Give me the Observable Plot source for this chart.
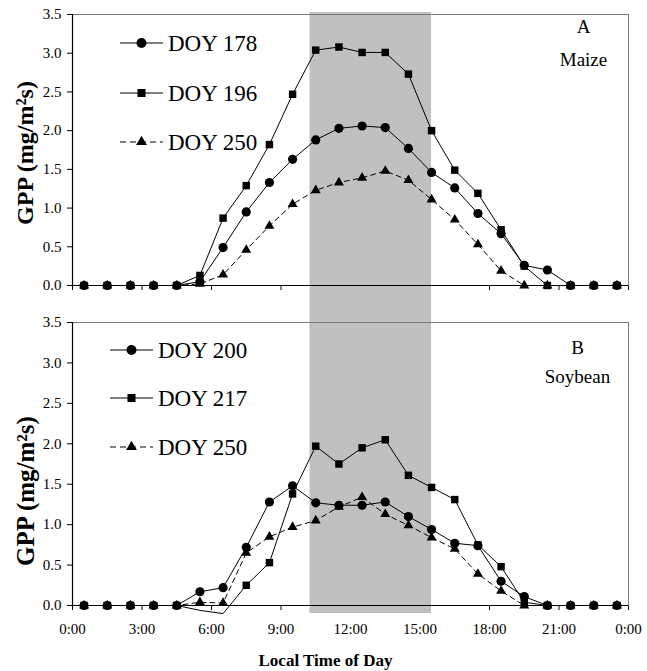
<!DOCTYPE html>
<html>
<head>
<meta charset="utf-8">
<script src="https://cdn.jsdelivr.net/npm/d3@7"></script>
<script src="https://cdn.jsdelivr.net/npm/@observablehq/plot@0.6"></script>
<style>
  html, body { margin: 0; padding: 0; background: #fff; overflow: hidden; }
  #chart { width: 647px; height: 671px; }
  #chart svg { display: block; }
  #chart svg, #chart svg text { font-family: 'Liberation Serif', 'Times New Roman', Times, serif !important; }
</style>
</head>
<body>
<div id="chart"></div>
<script>
// ---- Data ----
const hours = [0.5, 1.5, 2.5, 3.5, 4.5, 5.5, 6.5, 7.5, 8.5, 9.5, 10.5, 11.5,
               12.5, 13.5, 14.5, 15.5, 16.5, 17.5, 18.5, 19.5, 20.5, 21.5, 22.5, 23.5];

const maizeNames = ["DOY 178", "DOY 196", "DOY 250"];
const maize178 = [0, 0, 0, 0, 0, 0.05, 0.49, 0.95, 1.33, 1.63, 1.88, 2.03, 2.06, 2.04, 1.77, 1.46, 1.26, 0.93, 0.67, 0.26, 0.20, 0, 0, 0];
const maize196 = [0, 0, 0, 0, 0, 0.13, 0.87, 1.29, 1.82, 2.47, 3.04, 3.08, 3.01, 3.01, 2.73, 2.00, 1.49, 1.19, 0.72, 0.25, 0, 0, 0, 0];
const maize250 = [0, 0, 0, 0, 0, 0.02, 0.14, 0.46, 0.77, 1.05, 1.23, 1.33, 1.39, 1.48, 1.36, 1.11, 0.85, 0.53, 0.19, 0, 0, 0, 0, 0];

const soyNames = ["DOY 200", "DOY 217", "DOY 250"];
const soy200 = [0, 0, 0, 0, 0, 0.17, 0.22, 0.72, 1.28, 1.48, 1.27, 1.24, 1.24, 1.28, 1.10, 0.94, 0.77, 0.74, 0.30, 0.11, 0, 0, 0, 0];
const soy217 = [0, 0, 0, 0, 0, -0.06, -0.10, 0.25, 0.53, 1.38, 1.97, 1.75, 1.95, 2.05, 1.61, 1.46, 1.31, 0.75, 0.48, 0.04, 0, 0, 0, 0];
const soy250 = [0, 0, 0, 0, 0, 0.04, 0.03, 0.65, 0.85, 0.97, 1.05, 1.22, 1.34, 1.13, 0.99, 0.84, 0.70, 0.39, 0.18, 0, 0, 0, 0, 0];

const symbols = ["circle", "square", "triangle"];
const dashes = [null, null, "5,4"];

const xTicks = [0, 3, 6, 9, 12, 15, 18, 21, 24];
const xTickLabels = ["0:00", "3:00", "6:00", "9:00", "12:00", "15:00", "18:00", "21:00", "0:00"];
const yTicks = [0, 0.5, 1.0, 1.5, 2.0, 2.5, 3.0, 3.5];

const band = [{start: 10.25, end: 15.5}];  // shaded midday period (hours)

const yLabel = "GPP (mg/m\u00B2s)";
const xLabel = "Local Time of Day";

// ---- Helpers ----
const FONT = "'Liberation Serif', 'Times New Roman', Times, serif";
const symR = {circle: 4.6, square: 4.2, triangle: 3.7};

function table(names, seriesList) {
  const rows = [];
  seriesList.forEach((vals, si) => {
    vals.forEach((v, i) => rows.push({series: names[si], idx: si, hour: hours[i], gpp: v}));
  });
  return rows;
}

function panel({names, series, width, height, mt, mb, ml, mr, bandTopPx, bandBottomPx,
                showXLabels, letter, crop, letterDx, letterDy, cropDy, ylabDy, ylabSize, extra}) {
  const data = table(names, series);
  const pxPerUnit = (height - mt - mb) / 3.5;
  const bandY2 = 3.5 + (mt - bandTopPx) / pxPerUnit;
  const bandY1 = -(bandBottomPx - (height - mb)) / pxPerUnit;
  const marks = [
    Plot.rect(band, {x1: "start", x2: "end", y1: () => bandY1, y2: () => bandY2, fill: "#c0c0c0"}),
    Plot.frame({stroke: "#7a7a7a", strokeWidth: 1}),
    Plot.ruleX([0], {stroke: "black", strokeWidth: 1.2}),
    Plot.ruleY([0], {stroke: "black", strokeWidth: 1.2})
  ];
  names.forEach((n, si) => {
    const d = data.filter(r => r.idx === si);
    marks.push(Plot.line(d, {x: "hour", y: "gpp", stroke: "black", strokeWidth: 1,
      strokeDasharray: dashes[si] || undefined}));
  });
  names.forEach((n, si) => {
    const d = data.filter(r => r.idx === si && r.gpp >= 0);
    marks.push(Plot.dot(d, {x: "hour", y: "gpp", symbol: () => symbols[si], r: symR[symbols[si]],
      fill: "black", stroke: "none"}));
  });
  const t = {textAnchor: "middle", lineAnchor: "middle", fill: "black"};
  marks.push(Plot.text([letter], {...t, text: d => d, frameAnchor: "top-right", dx: letterDx, dy: letterDy,
    fontSize: 19}));
  marks.push(Plot.text([crop], {...t, text: d => d, frameAnchor: "top-right", dx: letterDx, dy: cropDy,
    fontSize: 19}));
  marks.push(Plot.text([yLabel], {...t, text: d => d, frameAnchor: "left", rotate: -90, dx: -47, dy: ylabDy,
    fontSize: ylabSize, fontWeight: "bold"}));
  if (extra) marks.push(...extra);

  const svg = Plot.plot({
    width, height,
    marginTop: mt, marginBottom: mb, marginLeft: ml, marginRight: mr,
    style: {fontFamily: FONT, fontSize: "15px", color: "black", background: "transparent"},
    x: {domain: [0, 24], ticks: xTicks, tickSize: 5, tickPadding: 13,
        tickFormat: showXLabels ? (d => xTickLabels[xTicks.indexOf(d)]) : (() => ""), label: null},
    y: {domain: [0, 3.5], ticks: yTicks, tickSize: 5, tickPadding: 6,
        tickFormat: d => d.toFixed(1), label: null},
    symbol: {type: "identity"},
    marks
  });
  return svg;
}

function addLegend(svg, names, rowsY, lineX1, lineX2, textX) {
  const g = d3.select(svg).append("g").attr("font-family", FONT).attr("text-anchor", "start");
  names.forEach((n, si) => {
    const y = rowsY[si];
    g.append("line").attr("x1", lineX1).attr("x2", lineX2).attr("y1", y).attr("y2", y)
      .attr("stroke", "black").attr("stroke-width", 1.2)
      .attr("stroke-dasharray", dashes[si] ? "6,4" : null);
    const typ = {circle: d3.symbolCircle, square: d3.symbolSquare, triangle: d3.symbolTriangle}[symbols[si]];
    const r = symR[symbols[si]] * 1.08;
    g.append("path").attr("d", d3.symbol(typ, Math.PI * r * r)())
      .attr("transform", `translate(${(lineX1 + lineX2) / 2},${y})`).attr("fill", "black");
    g.append("text").attr("x", textX).attr("y", y).attr("dy", "0.35em")
      .attr("text-anchor", "start").style("text-anchor", "start")
      .attr("font-size", 23).attr("fill", "black").text(n);
  });
}

const container = document.getElementById("chart");

const svgA = panel({
  names: maizeNames, series: [maize178, maize196, maize250],
  width: 647, height: 304, mt: 14, mb: 19, ml: 72, mr: 19,
  bandTopPx: 12, bandBottomPx: 304,
  showXLabels: false, letter: "A", crop: "Maize",
  letterDx: -45, letterDy: 12, cropDy: 45, ylabDy: 3, ylabSize: 24
});
addLegend(svgA, maizeNames, [43, 93, 142], 120, 163, 168);
container.appendChild(svgA);

const svgB = panel({
  names: soyNames, series: [soy200, soy217, soy250],
  width: 647, height: 367, mt: 18, mb: 66, ml: 72, mr: 19,
  bandTopPx: 0, bandBottomPx: 309,
  showXLabels: true, letter: "B", crop: "Soybean",
  letterDx: -51, letterDy: 25, cropDy: 54, ylabDy: 27, ylabSize: 25,
  extra: [Plot.text([xLabel], {text: d => d, frameAnchor: "bottom", textAnchor: "middle", lineAnchor: "middle",
    dx: -25, dy: 55, fontSize: 17, fontWeight: "bold", fill: "black"})]
});
addLegend(svgB, soyNames, [46, 94, 143], 110, 153, 158);
container.appendChild(svgB);
</script>
</body>
</html>
